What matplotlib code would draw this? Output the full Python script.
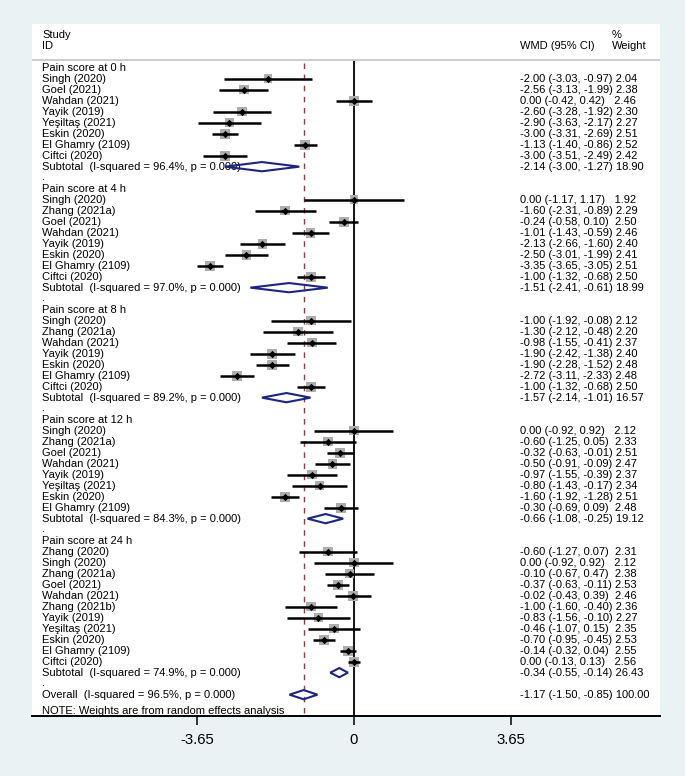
#forest plot: dolor postoperatorio, WMD con efectos aleatorios
import matplotlib
matplotlib.use('Agg')
import matplotlib.pyplot as plt
from matplotlib.patches import Polygon

plt.rcParams['font.family'] = ['Liberation Sans', 'DejaVu Sans']

#datos por grupo
group_labels = ["Pain score at 0 h", "Pain score at 4 h", "Pain score at 8 h",
                "Pain score at 12 h", "Pain score at 24 h"]

names_0h = ["Singh (2020)", "Goel (2021)", "Wahdan (2021)", "Yayik (2019)", "Yeşiltaş (2021)",
            "Eskin (2020)", "El Ghamry (2109)", "Ciftci (2020)"]
es_0h = [-2.00, -2.56, 0.00, -2.60, -2.90, -3.00, -1.13, -3.00]
lo_0h = [-3.03, -3.13, -0.42, -3.28, -3.63, -3.31, -1.40, -3.51]
hi_0h = [-0.97, -1.99, 0.42, -1.92, -2.17, -2.69, -0.86, -2.49]
wt_0h = [2.04, 2.38, 2.46, 2.30, 2.27, 2.51, 2.52, 2.42]

names_4h = ["Singh (2020)", "Zhang (2021a)", "Goel (2021)", "Wahdan (2021)", "Yayik (2019)",
            "Eskin (2020)", "El Ghamry (2109)", "Ciftci (2020)"]
es_4h = [0.00, -1.60, -0.24, -1.01, -2.13, -2.50, -3.35, -1.00]
lo_4h = [-1.17, -2.31, -0.58, -1.43, -2.66, -3.01, -3.65, -1.32]
hi_4h = [1.17, -0.89, 0.10, -0.59, -1.60, -1.99, -3.05, -0.68]
wt_4h = [1.92, 2.29, 2.50, 2.46, 2.40, 2.41, 2.51, 2.50]

names_8h = ["Singh (2020)", "Zhang (2021a)", "Wahdan (2021)", "Yayik (2019)", "Eskin (2020)",
            "El Ghamry (2109)", "Ciftci (2020)"]
es_8h = [-1.00, -1.30, -0.98, -1.90, -1.90, -2.72, -1.00]
lo_8h = [-1.92, -2.12, -1.55, -2.42, -2.28, -3.11, -1.32]
hi_8h = [-0.08, -0.48, -0.41, -1.38, -1.52, -2.33, -0.68]
wt_8h = [2.12, 2.20, 2.37, 2.40, 2.48, 2.48, 2.50]

names_12h = ["Singh (2020)", "Zhang (2021a)", "Goel (2021)", "Wahdan (2021)", "Yayik (2019)",
             "Yeşiltaş (2021)", "Eskin (2020)", "El Ghamry (2109)"]
es_12h = [0.00, -0.60, -0.32, -0.50, -0.97, -0.80, -1.60, -0.30]
lo_12h = [-0.92, -1.25, -0.63, -0.91, -1.55, -1.43, -1.92, -0.69]
hi_12h = [0.92, 0.05, -0.01, -0.09, -0.39, -0.17, -1.28, 0.09]
wt_12h = [2.12, 2.33, 2.51, 2.47, 2.37, 2.34, 2.51, 2.48]

names_24h = ["Zhang (2020)", "Singh (2020)", "Zhang (2021a)", "Goel (2021)", "Wahdan (2021)",
             "Zhang (2021b)", "Yayik (2019)", "Yeşiltaş (2021)", "Eskin (2020)",
             "El Ghamry (2109)", "Ciftci (2020)"]
es_24h = [-0.60, 0.00, -0.10, -0.37, -0.02, -1.00, -0.83, -0.46, -0.70, -0.14, 0.00]
lo_24h = [-1.27, -0.92, -0.67, -0.63, -0.43, -1.60, -1.56, -1.07, -0.95, -0.32, -0.13]
hi_24h = [0.07, 0.92, 0.47, -0.11, 0.39, -0.40, -0.10, 0.15, -0.45, 0.04, 0.13]
wt_24h = [2.31, 2.12, 2.38, 2.53, 2.46, 2.36, 2.27, 2.35, 2.53, 2.55, 2.56]

#subtotales
sub_i2 = [96.4, 97.0, 89.2, 84.3, 74.9]
sub_es = [-2.14, -1.51, -1.57, -0.66, -0.34]
sub_lo = [-3.00, -2.41, -2.14, -1.08, -0.55]
sub_hi = [-1.27, -0.61, -1.01, -0.25, -0.14]
sub_wt = [18.90, 18.99, 16.57, 19.12, 26.43]

#global
overall_i2 = 96.5
overall_es, overall_lo, overall_hi, overall_wt = -1.17, -1.50, -0.85, 100.00

xticks = [-3.65, 0, 3.65]
xtick_labels = ["-3.65", "0", "3.65"]

#estilos
bg = '#EAF2F3'
navy = '#1c2580'
red = '#a83232'
fs = 8.0
x_text = -7.256
x_wmd = 3.86

fig = plt.figure(figsize=(6.85, 7.76), dpi=100, facecolor=bg)
ax = fig.add_axes([32/685, 60/776, 628/685, 692/776])
ax.set_facecolor('white')
ax.set_xlim(-7.49, 7.12)
ax.set_ylim(58.94, -3.97)
for s in ['top', 'left', 'right']:
    ax.spines[s].set_visible(False)
ax.spines['bottom'].set_linewidth(1.4)
ax.set_yticks([])
ax.set_xticks(xticks)
ax.set_xticklabels(xtick_labels, fontsize=10.7)
ax.tick_params(axis='x', length=6.5, width=1.1, pad=5.5)


def wmd_text(es, lo, hi, w):
    ci = "%.2f (%.2f, %.2f)" % (es, lo, hi)
    return ci.ljust(20) + " " + "%.2f" % w


def diamond(y, es, lo, hi):
    h = 0.42
    p = Polygon([(lo, y), (es, y - h), (hi, y), (es, y + h)], closed=True,
                fill=False, edgecolor=navy, linewidth=1.5, zorder=4)
    ax.add_patch(p)


#encabezado
ax.text(x_text, -2.95, "Study", fontsize=fs, va='center')
ax.text(x_text, -1.97, "ID", fontsize=fs, va='center')
ax.text(x_wmd, -1.97, "WMD (95% CI)", fontsize=fs, va='center')
ax.text(6.0, -2.95, "%", fontsize=fs, va='center')
ax.text(6.0, -1.97, "Weight", fontsize=fs, va='center')
ax.axhline(-0.70, color='#c8c8c8', linewidth=1.3)

#lineas de referencia
ax.vlines(0, -0.70, 58.94, color='black', linewidth=1.3, zorder=1.5)
ax.vlines(overall_es, -0.43, 58.94, color=red, linewidth=1.0, linestyles=(0, (4, 4)), zorder=1.5)

all_names = [names_0h, names_4h, names_8h, names_12h, names_24h]
all_es = [es_0h, es_4h, es_8h, es_12h, es_24h]
all_lo = [lo_0h, lo_4h, lo_8h, lo_12h, lo_24h]
all_hi = [hi_0h, hi_4h, hi_8h, hi_12h, hi_24h]
all_wt = [wt_0h, wt_4h, wt_8h, wt_12h, wt_24h]

r = 0
for g in range(len(group_labels)):
    ax.text(x_text, r, group_labels[g], fontsize=fs, va='center')
    r += 1
    rows = []
    for i in range(len(all_names[g])):
        ax.text(x_text, r, all_names[g][i], fontsize=fs, va='center')
        ax.text(x_wmd, r, wmd_text(all_es[g][i], all_lo[g][i], all_hi[g][i], all_wt[g][i]),
                fontsize=fs, va='center')
        rows.append(r)
        r += 1
    sizes = [(4.5 * w ** 0.5) ** 2 for w in all_wt[g]]
    ax.scatter(all_es[g], rows, s=sizes, marker='s', color='#adadad', linewidths=0, zorder=2)
    ax.hlines(rows, all_lo[g], all_hi[g], color='black', linewidth=1.8, zorder=3)
    ax.scatter(all_es[g], rows, s=14, marker='D', color='black', linewidths=0, zorder=4)
    #subtotal
    ax.text(x_text, r, "Subtotal  (I-squared = %.1f%%, p = 0.000)" % sub_i2[g], fontsize=fs, va='center')
    ax.text(x_wmd, r, wmd_text(sub_es[g], sub_lo[g], sub_hi[g], sub_wt[g]), fontsize=fs, va='center')
    diamond(r, sub_es[g], sub_lo[g], sub_hi[g])
    r += 1
    ax.text(x_text, r - 0.1, ".", fontsize=fs, va='center')
    r += 1

#overall
ax.text(x_text, r, "Overall  (I-squared = %.1f%%, p = 0.000)" % overall_i2, fontsize=fs, va='center')
ax.text(x_wmd, r, wmd_text(overall_es, overall_lo, overall_hi, overall_wt), fontsize=fs, va='center')
diamond(r, overall_es, overall_lo, overall_hi)
ax.text(x_text, r + 1.45, "NOTE: Weights are from random effects analysis", fontsize=fs, va='center')

fig.savefig('out.png', dpi=100, facecolor=bg)
